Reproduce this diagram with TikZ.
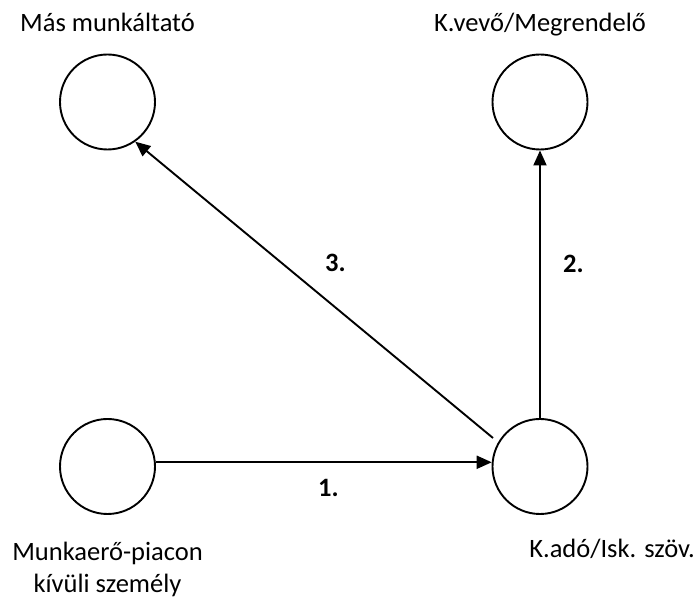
\documentclass[tikz,border=0pt]{standalone}
\usepackage{fontspec}
\setmainfont{Carlito}
\usetikzlibrary{arrows.meta}
\begin{document}
\begin{tikzpicture}[x=1pt,y=-1pt,
  party/.style={draw,line width=1.9pt,circle,minimum size=95pt,inner sep=0pt},
  lbl/.style={font=\fontsize{26.5}{32}\selectfont,anchor=base,inner sep=0pt},
  num/.style={font=\fontsize{26.5}{32}\selectfont\bfseries,anchor=base west,inner sep=0pt},
  flow/.style={line width=1.9pt,-{Triangle[length=15pt,width=13pt]}}]
\useasboundingbox (0,0) rectangle (697,601);
\node[party] (tl) at (107.5,102) {};
\node[party] (tr) at (540,102) {};
\node[party] (bl) at (107.5,466.5) {};
\node[party] (br) at (540,466.5) {};
\node[lbl] (ltl) at (107.5,32) {Más munkáltató};
\node[lbl] (ltr) at (540,32) {K.vevő/Megrendelő};
\node[lbl] (lbl1) at (107.5,561) {Munkaerő-piacon};
\node[lbl] (lbl2) at (107.5,593) {kívüli személy};
\node[lbl] (lbr) at (612,558) {K.adó/Isk. szöv.};
\coordinate (s3) at (493,438);
\draw[flow] (bl.5) -- (br.175);
\draw[flow] (br.north) -- (tr.south);
\draw[flow] (s3) -- (tl.-55);
\node[num] (n1) at (318,497) {1.};
\node[num] (n2) at (563,273) {2.};
\node[num] (n3) at (325,272) {3.};
\end{tikzpicture}
\end{document}
